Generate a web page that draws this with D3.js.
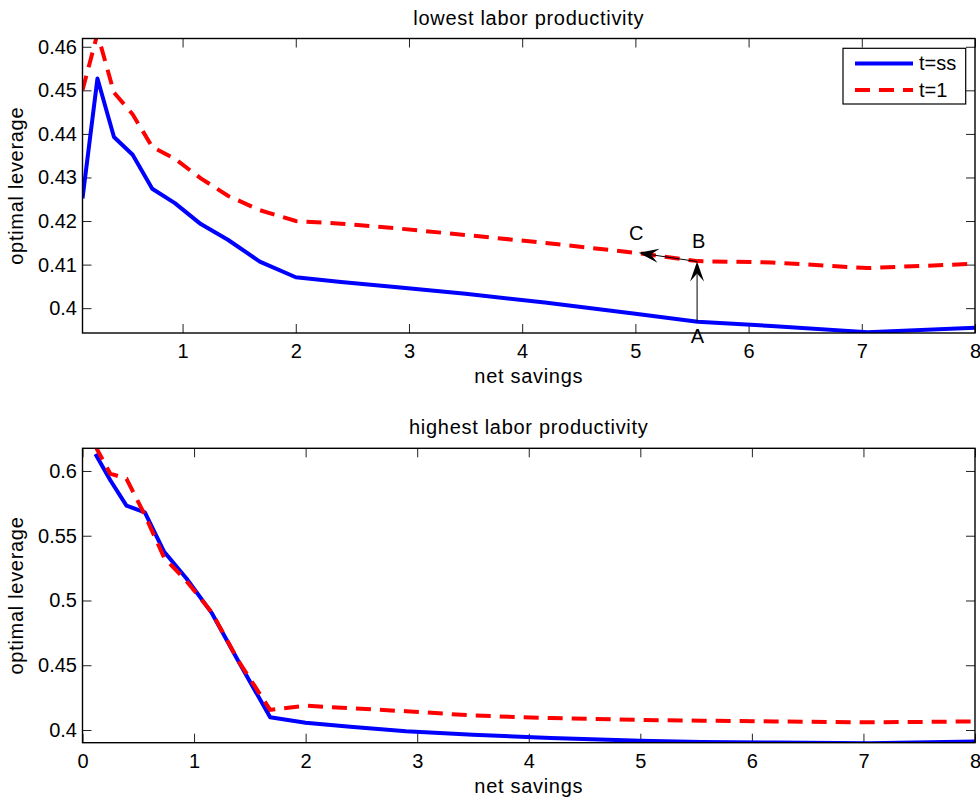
<!DOCTYPE html>
<html>
<head>
<meta charset="utf-8">
<script src="https://cdn.jsdelivr.net/npm/d3@7/dist/d3.min.js"></script>
<style>
  body { margin: 0; background: #fff; }
  text { font-family: "Liberation Sans", Arial, Helvetica, sans-serif; fill: #000; }
</style>
</head>
<body>
<svg id="grafico"></svg>
<script>
"use strict"

// grade de poupanca liquida (eixo x)
const poupanca = [0.116, 0.248, 0.394, 0.559, 0.732, 0.932, 1.161, 1.40, 1.682, 2.0, 2.4, 2.9, 3.5, 4.2, 5.0, 5.55, 6.2, 7.05, 8.0];

// menor produtividade
const baixaSS = [0.4252, 0.4527, 0.4393, 0.4352, 0.4274, 0.4241, 0.4193, 0.4157, 0.4107, 0.4071, 0.4060, 0.4048, 0.4033, 0.4013, 0.3987, 0.3969, 0.3959, 0.3945, 0.3955];
const baixaT1 = [0.4500, 0.4630, 0.4495, 0.4445, 0.4370, 0.4343, 0.4298, 0.4258, 0.4225, 0.4200, 0.4194, 0.4183, 0.4168, 0.4150, 0.4127, 0.4108, 0.4105, 0.4092, 0.4102];

// maior produtividade
const altaSS = [0.6131, 0.5930, 0.5732, 0.5681, 0.5376, 0.5170, 0.4900, 0.4527, 0.4098, 0.4056, 0.4025, 0.3990, 0.3963, 0.3939, 0.3917, 0.3908, 0.3903, 0.3898, 0.3912];
const altaT1 = [0.6190, 0.5980, 0.5940, 0.5660, 0.5330, 0.5150, 0.4905, 0.4530, 0.4155, 0.4188, 0.4168, 0.4145, 0.4112, 0.4092, 0.4078, 0.4072, 0.4066, 0.4059, 0.4066];

const ticksXTopo = [1, 2, 3, 4, 5, 6, 7, 8];
const ticksXBaixo = [0, 1, 2, 3, 4, 5, 6, 7, 8];
const ticksYTopo = [0.40, 0.41, 0.42, 0.43, 0.44, 0.45, 0.46];
const rotulosYTopo = ["0.4", "0.41", "0.42", "0.43", "0.44", "0.45", "0.46"];
const ticksYBaixo = [0.40, 0.45, 0.50, 0.55, 0.60];
const rotulosYBaixo = ["0.4", "0.45", "0.5", "0.55", "0.6"];

const series = ["t=ss", "t=1"];

// setas A -> B -> C (coordenadas nos dados)
const setaAB = [[5.545, 0.3969], [5.545, 0.4107]];
const setaBC = [[5.545, 0.4107], [5.03, 0.4127]];
const letras = [
  { t: "A", x: 5.548, y: 0.3920 },
  { t: "B", x: 5.56, y: 0.4138 },
  { t: "C", x: 5.007, y: 0.4157 }
];

function iniciar() {
  const largura = 980;
  const altura = 804;
  const svg = d3.select('#grafico').attr('width', largura).attr('height', altura);

  const paineis = [
    { titulo: "lowest labor productivity", topo: 38.5, base: 333, xDom: [0.116, 8], yDom: [0.3943, 0.4619],
      ticksX: ticksXTopo, ticksY: ticksYTopo, rotulosY: rotulosYTopo, ss: baixaSS, t1: baixaT1, legenda: true },
    { titulo: "highest labor productivity", topo: 448.3, base: 742.7, xDom: [0, 8], yDom: [0.3902, 0.6175],
      ticksX: ticksXBaixo, ticksY: ticksYBaixo, rotulosY: rotulosYBaixo, ss: altaSS, t1: altaT1, legenda: false }
  ];
  const esquerda = 82.5, direita = 975;

  paineis.forEach((p, k) => {
    const x = d3.scaleLinear().domain(p.xDom).range([esquerda, direita]);
    const y = d3.scaleLinear().domain(p.yDom).range([p.base, p.topo]);
    const g = svg.append('g');

    g.append('clipPath').attr('id', 'corte' + k)
      .append('rect')
      .attr('x', esquerda).attr('y', p.topo)
      .attr('width', direita - esquerda).attr('height', p.base - p.topo);

    // eixos com ticks para dentro
    const eixoX = g.append('g').attr('transform', `translate(0,${p.base})`)
      .call(d3.axisBottom(x).tickValues(p.ticksX).tickFormat(d3.format('d')).tickSizeInner(-9).tickSizeOuter(0).tickPadding(10.8));
    const eixoXTopo = g.append('g').attr('transform', `translate(0,${p.topo})`)
      .call(d3.axisTop(x).tickValues(p.ticksX).tickFormat('').tickSizeInner(-9).tickSizeOuter(0));
    const eixoY = g.append('g').attr('transform', `translate(${esquerda},0)`)
      .call(d3.axisLeft(y).tickValues(p.ticksY).tickFormat((d, i) => p.rotulosY[i]).tickSizeInner(-9).tickSizeOuter(0).tickPadding(5.5));
    const eixoYDir = g.append('g').attr('transform', `translate(${direita},0)`)
      .call(d3.axisRight(y).tickValues(p.ticksY).tickFormat('').tickSizeInner(-9).tickSizeOuter(0));

    [eixoX, eixoXTopo, eixoY, eixoYDir].forEach(e => {
      e.select('.domain').remove();
      e.selectAll('line').attr('stroke', '#222').attr('stroke-width', 1);
      e.selectAll('text').style('font-size', '20px').attr('fill', '#000');
    });

    const linha = d3.line()
      .x((d, i) => x(poupanca[i]))
      .y(d => y(d));

    const area = g.append('g').attr('clip-path', `url(#corte${k})`);
    area.append('path').datum(p.ss)
      .attr('d', linha).attr('fill', 'none')
      .attr('stroke', '#0000ff').attr('stroke-width', 4).attr('stroke-linejoin', 'round');
    area.append('path').datum(p.t1)
      .attr('d', linha).attr('fill', 'none')
      .attr('stroke', '#ff0000').attr('stroke-width', 4).attr('stroke-dasharray', '15,9');

    // moldura
    g.append('rect')
      .attr('x', esquerda).attr('y', p.topo)
      .attr('width', direita - esquerda).attr('height', p.base - p.topo)
      .attr('fill', 'none').attr('stroke', '#000').attr('stroke-width', 1.4);

    g.append('text')
      .attr('x', (esquerda + direita) / 2).attr('y', p.topo - 14)
      .attr('text-anchor', 'middle').style('font-size', '20px').style('letter-spacing', '0.7px')
      .text(p.titulo);
    g.append('text')
      .attr('x', (esquerda + direita) / 2).attr('y', p.base + 50)
      .attr('text-anchor', 'middle').style('font-size', '20px').style('letter-spacing', '0.7px')
      .text('net savings');
    g.append('text')
      .attr('transform', `translate(23,${(p.topo + p.base) / 2}) rotate(-90)`)
      .attr('text-anchor', 'middle').style('font-size', '20px').style('letter-spacing', '0.7px')
      .text('optimal leverage');

    if (p.legenda) {
      const leg = g.append('g');
      leg.append('rect')
        .attr('x', 843).attr('y', 48.3).attr('width', 122.7).attr('height', 55.7)
        .attr('fill', '#fff').attr('stroke', '#000').attr('stroke-width', 1.2);
      const cores = ['#0000ff', '#ff0000'];
      series.forEach((s, i) => {
        const yy = 63.5 + i * 26.5;
        leg.append('line')
          .attr('x1', 855).attr('x2', 913).attr('y1', yy).attr('y2', yy)
          .attr('stroke', cores[i]).attr('stroke-width', 4)
          .attr('stroke-dasharray', i === 1 ? '15,9' : null);
        leg.append('text')
          .attr('x', 919).attr('y', yy + 6.5)
          .style('font-size', '20px')
          .text(s);
      });

      desenharSeta(g, x(setaAB[0][0]), y(setaAB[0][1]), x(setaAB[1][0]), y(setaAB[1][1]));
      desenharSeta(g, x(setaBC[0][0]), y(setaBC[0][1]), x(setaBC[1][0]), y(setaBC[1][1]));

      g.selectAll('.letra')
        .data(letras)
        .enter()
        .append('text')
        .classed('letra', true)
        .attr('x', d => x(d.x))
        .attr('y', d => y(d.y))
        .attr('text-anchor', 'middle')
        .style('font-size', '20px')
        .text(d => d.t);
    }
  });
}

// seta estilo matlab: linha fina e ponta cheia com entalhe
function desenharSeta(g, x1, y1, x2, y2) {
  const dx = x2 - x1, dy = y2 - y1;
  const n = Math.sqrt(dx * dx + dy * dy);
  const ux = dx / n, uy = dy / n;
  const px = -uy, py = ux;
  const comp = 20, meia = 7, entalhe = 12;
  g.append('line')
    .attr('x1', x1).attr('y1', y1)
    .attr('x2', x2 - ux * entalhe).attr('y2', y2 - uy * entalhe)
    .attr('stroke', '#000').attr('stroke-width', 1);
  const pts = [
    [x2, y2],
    [x2 - ux * comp + px * meia, y2 - uy * comp + py * meia],
    [x2 - ux * entalhe, y2 - uy * entalhe],
    [x2 - ux * comp - px * meia, y2 - uy * comp - py * meia]
  ];
  g.append('path')
    .attr('d', 'M' + pts.map(q => q.join(',')).join('L') + 'Z')
    .attr('fill', '#000');
}

window.addEventListener('load', iniciar, false);
</script>
</body>
</html>
